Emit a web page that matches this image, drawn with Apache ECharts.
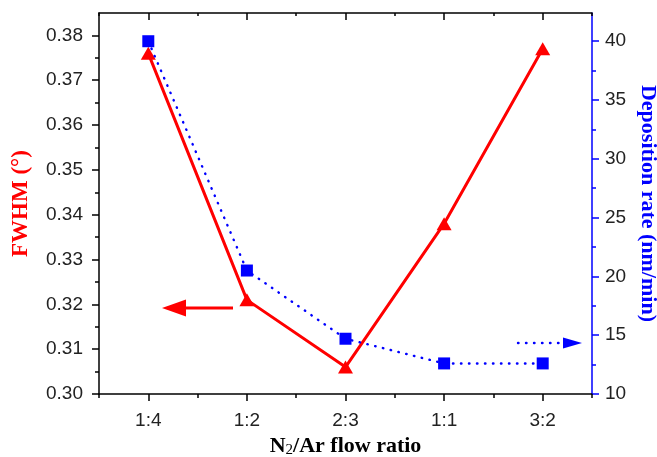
<!DOCTYPE html>
<html>
<head>
<meta charset="utf-8">
<script src="https://cdn.jsdelivr.net/npm/echarts@6/dist/echarts.min.js"></script>
<style>
  html, body { margin: 0; padding: 0; background: #fff; }
  #chart { width: 657px; height: 457px; }
</style>
</head>
<body>
<div id="chart"></div>
<script>
// Flow ratio categories
const ratios = ['1:4', '1:2', '2:3', '1:1', '3:2'];
// FWHM of the diffraction peak (degrees)
const fwhm = [0.376, 0.321, 0.306, 0.338, 0.377];
// Deposition rate (nm/min)
const depositionRate = [40.0, 20.5, 14.7, 12.6, 12.6];
// Tick values for both vertical axes
const fwhmTicks = [0.30, 0.31, 0.32, 0.33, 0.34, 0.35, 0.36, 0.37, 0.38];
const fwhmMinorTicks = [0.305, 0.315, 0.325, 0.335, 0.345, 0.355, 0.365, 0.375];
const rateTicks = [10, 15, 20, 25, 30, 35, 40];
const rateMinorTicks = [12.5, 17.5, 22.5, 27.5, 32.5, 37.5];

const RED = '#ff0000';
const BLUE = '#0000ff';
const SANS = 'Liberation Sans, Arial, sans-serif';
const SERIF = 'Liberation Serif, Times New Roman, serif';

const chart = echarts.init(document.getElementById('chart'), null, { renderer: 'canvas' });

const blackLine = { show: true, lineStyle: { color: '#000', width: 1.5 } };

const option = {
  backgroundColor: '#fff',
  animation: false,
  grid: { left: 99, right: 65, top: 13, bottom: 63, outerBoundsMode: 'none', containLabel: false },
  xAxis: [
    {
      type: 'category', data: ratios, position: 'bottom',
      axisLine: blackLine,
      axisTick: { show: true, alignWithLabel: true, length: 7, lineStyle: { color: '#000', width: 1.5 } },
      axisLabel: { color: '#222', fontFamily: SANS, fontSize: 19, margin: 17 },
      name: '{b|N}{s|2}{b|/Ar flow ratio}',
      nameLocation: 'middle', nameGap: 39,
      nameTextStyle: {
        rich: {
          b: { fontFamily: SERIF, fontWeight: 'bold', fontSize: 22, color: '#000' },
          s: { fontFamily: SERIF, fontSize: 15, color: '#000', padding: [8, 0, 0, 0] }
        }
      }
    },
    {
      type: 'category', data: ratios, position: 'bottom',
      axisLine: { show: false },
      axisTick: { show: true, length: 4, lineStyle: { color: '#000', width: 1.5 } },
      axisLabel: { show: false }
    },
    {
      type: 'category', data: ratios, position: 'top',
      axisLine: blackLine,
      axisTick: { show: true, inside: true, alignWithLabel: true, length: 7, lineStyle: { color: '#000', width: 1.5 } },
      axisLabel: { show: false }
    },
    {
      type: 'category', data: ratios, position: 'top',
      axisLine: { show: false },
      axisTick: { show: true, inside: true, length: 3, lineStyle: { color: '#000', width: 1.5 } },
      axisLabel: { show: false }
    }
  ],
  yAxis: [
    {
      type: 'value', position: 'left', min: 0.30, max: 0.385, interval: 0.01,
      splitLine: { show: false },
      axisLine: blackLine,
      axisTick: { show: true, length: 7, customValues: fwhmTicks, lineStyle: { color: '#000', width: 1.5 } },
      axisLabel: {
        color: '#222', fontFamily: SANS, fontSize: 19, margin: 16,
        customValues: fwhmTicks,
        formatter: v => v.toFixed(2)
      },
      name: 'FWHM (°)', nameLocation: 'middle', nameGap: 66, nameRotate: 90,
      nameTextStyle: { fontFamily: SERIF, fontWeight: 'bold', fontSize: 23, color: RED }
    },
    {
      type: 'value', position: 'right', min: 10, max: 42.4, interval: 5,
      splitLine: { show: false },
      axisLine: { show: true, lineStyle: { color: BLUE, width: 1.5 } },
      axisTick: { show: true, length: 7, customValues: rateTicks, lineStyle: { color: BLUE, width: 1.5 } },
      axisLabel: { color: '#222', fontFamily: SANS, fontSize: 19, margin: 13, customValues: rateTicks },
      name: 'Deposition rate (nm/min)', nameLocation: 'middle', nameGap: 45, nameRotate: -90,
      nameTextStyle: { fontFamily: SERIF, fontWeight: 'bold', fontSize: 22, color: BLUE }
    },
    {
      type: 'value', position: 'left', min: 0.30, max: 0.385, interval: 0.005,
      splitLine: { show: false }, axisLine: { show: false },
      axisTick: { show: true, length: 4, customValues: fwhmMinorTicks, lineStyle: { color: '#000', width: 1.5 } },
      axisLabel: { show: false }
    },
    {
      type: 'value', position: 'right', min: 10, max: 42.4, interval: 2.5,
      splitLine: { show: false }, axisLine: { show: false },
      axisTick: { show: true, length: 4, customValues: rateMinorTicks, lineStyle: { color: BLUE, width: 1.5 } },
      axisLabel: { show: false }
    }
  ],
  series: [
    {
      name: 'FWHM', type: 'line', xAxisIndex: 0, yAxisIndex: 0,
      data: fwhm,
      symbol: 'triangle', symbolSize: [15, 13], showAllSymbol: true,
      lineStyle: { color: RED, width: 3 },
      itemStyle: { color: RED, borderWidth: 0 },
      z: 3
    },
    {
      name: 'Deposition rate', type: 'line', xAxisIndex: 0, yAxisIndex: 1,
      data: depositionRate,
      symbol: 'rect', symbolSize: 12, showAllSymbol: true,
      lineStyle: { color: BLUE, width: 2.4, type: [0.5, 7.5], cap: 'round' },
      itemStyle: { color: BLUE, borderWidth: 0 },
      z: 4
    }
  ],
  graphic: [
    // arrow pointing to the FWHM axis
    { type: 'line', shape: { x1: 233, y1: 308, x2: 182, y2: 308 }, style: { stroke: RED, lineWidth: 3 } },
    { type: 'polygon', shape: { points: [[162, 308], [186, 299.5], [186, 316.5]] }, style: { fill: RED } },
    // arrow pointing to the deposition-rate axis
    { type: 'line', shape: { x1: 518, y1: 343, x2: 563, y2: 343 }, style: { stroke: BLUE, lineWidth: 2.4, lineDash: [0.5, 7.5], lineCap: 'round' } },
    { type: 'polygon', shape: { points: [[582, 343], [563, 337.5], [563, 348.5]] }, style: { fill: BLUE } }
  ]
};

chart.setOption(option);
</script>
</body>
</html>
